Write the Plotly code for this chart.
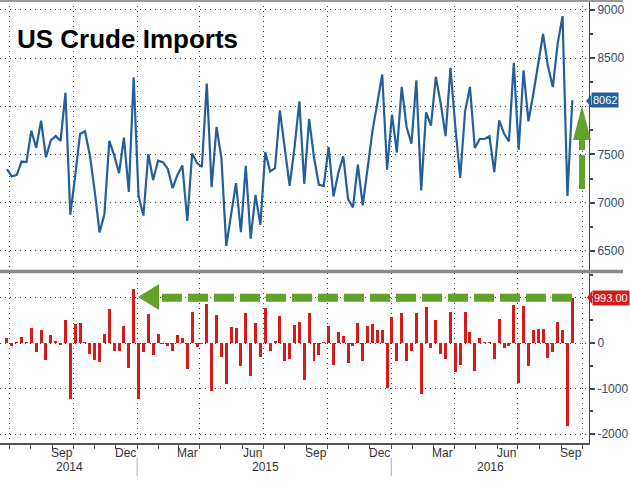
import plotly.graph_objects as go
import pandas as pd

# ---------------- data ----------------
imports = [7347, 7271, 7288, 7426, 7420, 7746, 7570, 7850, 7470, 7645,
           7690, 7640, 8140, 6875, 7280, 7712, 7740, 7495, 7120, 6690,
           6882, 7640, 7490, 7306, 7675, 7110, 8300, 7070, 6865, 7504,
           7235, 7436, 7420, 7350, 7150, 7290, 7385, 6810, 7510, 7410,
           7370, 8236, 7160, 7785, 7462, 6550, 6880, 7202, 6692, 7382,
           6625, 7080, 6768, 7525, 7323, 7358, 7958, 7560, 7174, 7570,
           8052, 7195, 7868, 7470, 7185, 7174, 7577, 7063, 7310, 7480,
           7035, 6950, 7393, 6970, 7340, 7745, 8035, 8330, 7341, 7913,
           7522, 8201, 7785, 7612, 8270, 7127, 7938, 7799, 8305, 8030,
           7690, 8399, 7790, 7255, 7948, 8201, 7567, 7660, 7660, 7688,
           7317, 7854, 7716, 7636, 8451, 7549, 8374, 7844, 8127, 8431,
           8750, 8420, 8200, 8650, 8936, 7069, 8062]

changes = [109, -72, 15, 138, 5, 326, -188, 283, -370, 174,
           51, -43, 500, -1232, 413, 428, 15, -240, -370, -420,
           196, 754, -167, -167, 362, -544, 1174, -1218, -203, 630,
           -261, 196, -10, -58, -181, 181, 101, -565, 688, -94,
           -20, 863, -1058, 616, -312, -892, 355, 326, -515, 667,
           -732, 442, -297, 761, -181, 51, 594, -399, -355, 399,
           464, -819, 652, -399, -261, 5, 377, -478, 246, 160,
           -435, -58, 442, -399, 370, 413, 283, 283, -982, 573,
           -384, 667, -399, -167, 652, -1124, 797, -116, 500, -239,
           -355, 688, -638, -478, 688, 246, -623, 109, 10, 15,
           -355, 522, -116, -72, 826, -870, 812, -507, 283, 304,
           304, -326, -203, 457, 290, -1820, 993]

weeks = pd.date_range(end="2016-09-17", periods=len(imports), freq="7D")

last_level = "8062"
last_change = "993.00"

top_ticks = [6500, 7000, 7500, 8000, 8500, 9000]
top_labels = ["6500", "7000", "7500", "", "8500", "9000"]   # 8000 hidden by value tag
bottom_ticks = [-2000, -1000, 0, 1000]
bottom_labels = ["-2000", "-1000", "0", ""]                # 1000 hidden by value tag

month_labels = ["Sep", "Dec", "Mar", "Jun", "Sep", "Dec", "Mar", "Jun", "Sep"]
month_dates = ["2014-09-15", "2014-12-15", "2015-03-15", "2015-06-15", "2015-09-15",
               "2015-12-15", "2016-03-15", "2016-06-15", "2016-09-15"]
year_labels = ["2014", "2015", "2016"]
year_breaks = ["2015-01-01", "2016-01-01"]

# ---------------- geometry helpers ----------------
W, H = 630, 490
ML, MR, MT, MB = 0, 41, 0, 47
PW, PH = W - ML - MR, H - MT - MB


def px(x):
    return (x - ML) / PW


def py(y):
    return (H - MB - y) / PH


BLUE = "#245f9c"
RED = "#d61b1b"
GREEN = "#62a22c"
AXC = "#2f4b6e"
GRID = "#3a3a3a"
FONT = "Liberation Sans Narrow, Arial Narrow, Liberation Sans, sans-serif"
XR = ["2014-06-18", "2016-10-11"]

fig = go.Figure()
fig.add_trace(go.Scatter(x=weeks, y=imports, mode="lines",
                         line=dict(color=BLUE, width=2.2),
                         xaxis="x", yaxis="y", hoverinfo="skip"))
fig.add_trace(go.Bar(x=weeks, y=changes, marker=dict(color=RED, line=dict(width=0)),
                     width=4.3 * 86400000, xaxis="x2", yaxis="y2", hoverinfo="skip"))

xgrid = dict(showgrid=True, gridcolor=GRID, gridwidth=1, griddash="1px,4px",
             tick0="2014-07-01", dtick="M3", zeroline=False, range=XR)

yaxis_common = dict(side="right", showgrid=True, gridcolor=GRID, gridwidth=1,
                    griddash="1px,4px", zeroline=False, ticks="outside",
                    ticklen=5, tickwidth=2, tickcolor=AXC, showline=True,
                    linecolor=AXC, linewidth=1,
                    tickfont=dict(family=FONT, size=12, color=AXC))

fig.update_layout(
    width=W, height=H, autosize=False,
    margin=dict(l=ML, r=MR, t=MT, b=MB),
    paper_bgcolor="white", plot_bgcolor="white",
    showlegend=False, bargap=0,
    xaxis=dict(domain=[0, 1], anchor="y", showticklabels=False, ticks="", **xgrid),
    xaxis2=dict(domain=[0, 1], anchor="y2", matches="x", showticklabels=False,
                ticks="outside", ticklen=4, tickcolor="#555", showline=True,
                linecolor="#555", linewidth=1.5,
                minor=dict(dtick="M1", tick0="2014-07-01", ticks="outside",
                           ticklen=4, tickcolor="#555", showgrid=False),
                **xgrid),
    yaxis=dict(domain=[py(270), py(1)], anchor="x", range=[6300, 9093],
               tickvals=top_ticks, ticktext=top_labels,
               minor=dict(dtick=250, ticks="outside", ticklen=3, tickcolor=AXC,
                          showgrid=False),
               **yaxis_common),
    yaxis2=dict(domain=[0, py(273)], anchor="x2", range=[-2193, 1535],
                tickvals=bottom_ticks, ticktext=bottom_labels,
                minor=dict(dtick=500, ticks="outside", ticklen=3, tickcolor=AXC,
                           showgrid=False),
                **yaxis_common),
)

shapes = []
# top border and panel separator
shapes.append(dict(type="line", xref="paper", yref="paper", x0=0, x1=px(623),
                   y0=py(1), y1=py(1), line=dict(color="#9a9a9a", width=2)))
shapes.append(dict(type="line", xref="paper", yref="paper", x0=0, x1=px(623),
                   y0=py(271.5), y1=py(271.5), line=dict(color="#8a8a8a", width=3.5)))
# year separators
for d in year_breaks:
    shapes.append(dict(type="line", xref="x2", yref="paper", x0=d, x1=d,
                       y0=py(458), y1=py(476), line=dict(color="#b0b0b0", width=1)))
# green up arrow (top panel)
shapes.append(dict(type="line", xref="paper", yref="paper", x0=px(582), x1=px(582),
                   y0=py(189), y1=py(155), line=dict(color=GREEN, width=6)))
shapes.append(dict(type="line", xref="paper", yref="paper", x0=px(582), x1=px(582),
                   y0=py(150), y1=py(138), line=dict(color=GREEN, width=6)))
shapes.append(dict(type="path", xref="paper", yref="paper",
                   path=f"M {px(573)} {py(140)} L {px(591)} {py(140)} L {px(582)} {py(106)} Z",
                   fillcolor=GREEN, line=dict(width=0)))
# green dashed left arrow (bottom panel)
shapes.append(dict(type="line", xref="paper", yref="y2", x0=px(572), x1=px(160),
                   y0=993, y1=993, line=dict(color=GREEN, width=8, dash="20px,6px")))
shapes.append(dict(type="path", xref="paper", yref="paper",
                   path=f"M {px(159)} {py(284)} L {px(159)} {py(310)} L {px(138)} {py(297)} Z",
                   fillcolor=GREEN, line=dict(width=0)))
# label pointers
shapes.append(dict(type="path", xref="paper", yref="paper",
                   path=f"M {px(591)} {py(95)} L {px(591)} {py(107)} L {px(586)} {py(101)} Z",
                   fillcolor=BLUE, line=dict(width=0)))
shapes.append(dict(type="path", xref="paper", yref="paper",
                   path=f"M {px(592)} {py(291)} L {px(592)} {py(304)} L {px(587)} {py(297.5)} Z",
                   fillcolor=RED, line=dict(width=0)))
fig.update_layout(shapes=shapes)

ann = []
ann.append(dict(text="US Crude Imports", xref="paper", yref="paper",
                x=px(15), y=py(39), xanchor="left", yanchor="middle", showarrow=False,
                font=dict(family="Liberation Sans, Arial, sans-serif", size=26,
                          color="black", weight="bold")))
for lab, d in zip(month_labels, month_dates):
    ann.append(dict(text=lab, xref="x2", yref="paper", x=d, y=py(453),
                    xanchor="center", yanchor="middle", showarrow=False,
                    font=dict(family=FONT, size=12, color="#333")))
for lab, xp in zip(year_labels, [69, 265, 490]):
    ann.append(dict(text=lab, xref="paper", yref="paper", x=px(xp), y=py(467),
                    xanchor="center", yanchor="middle", showarrow=False,
                    font=dict(family=FONT, size=12, color="#333")))
ann.append(dict(text=last_level, xref="paper", yref="y", x=px(591), y=imports[-1],
                xanchor="left", yanchor="middle", showarrow=False, bgcolor=BLUE,
                borderpad=1, font=dict(family=FONT, size=11, color="white")))
ann.append(dict(text=last_change, xref="paper", yref="y2", x=px(592), y=changes[-1],
                xanchor="left", yanchor="middle", showarrow=False, bgcolor=RED,
                borderpad=1, font=dict(family=FONT, size=11, color="white")))
fig.update_layout(annotations=ann)

fig.write_html("out.html")
